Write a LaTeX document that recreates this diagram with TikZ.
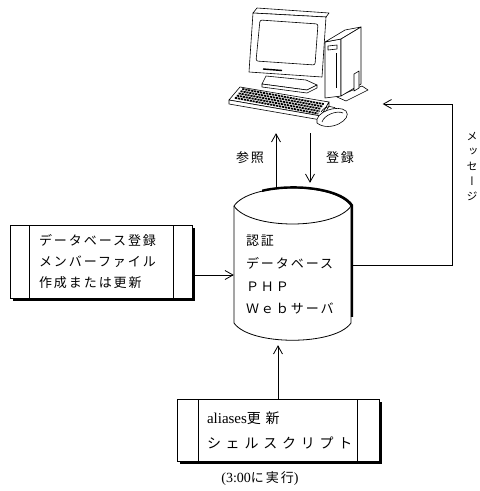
\documentclass[tikz,border=0pt]{standalone}
\usepackage{fontspec}
\setmainfont{Liberation Serif}
\newfontfamily\jp[LetterSpace=15]{Noto Sans CJK JP}
\newfontfamily\jpwide[LetterSpace=34]{Noto Sans CJK JP}
\newfontfamily\jpvert[RawFeature={+vert}]{Noto Sans CJK JP}
\usetikzlibrary{arrows.meta,shadows,calc,positioning}

\tikzset{
    procbox/.style={draw, fill=white, line width=0.8pt,
        drop shadow={shadow xshift=2.5pt, shadow yshift=-2.5pt, fill=black, opacity=1},
        path picture={\draw[line width=0.8pt]
            ([xshift=#1]path picture bounding box.north west) -- ([xshift=#1]path picture bounding box.south west)
            ([xshift=-#1]path picture bounding box.north east) -- ([xshift=-#1]path picture bounding box.south east);}},
    arr/.style={line width=0.8pt, -{Straight Barb[length=8pt, width=9pt]}},
    jptext/.style={font=\jp\fontsize{13}{21}\selectfont},
}

\begin{document}
\begin{tikzpicture}[x=1pt, y=-1pt]
        \useasboundingbox[fill=white] (0,0) rectangle (480,491);

        \node[minimum width=180pt, minimum height=128pt] (pc) at (292.5,69) {};
        \node[minimum width=117pt, minimum height=152pt] (db) at (292.5,265) {};

        \begin{scope}[line width=0.6pt, fill=white, line join=round]
            \draw[fill=white] (337,97) -- (346,101) -- (368,90) -- (362,86) -- cycle;
            \draw[fill=white] (325,42) -- (341,39) -- (341,96) -- (325,98) -- cycle;
            \draw[fill=white] (325,42) -- (341,39) -- (361,27) -- (345,30) -- cycle;
            \draw[fill=white] (341,39) -- (361,27) -- (361,84) -- (341,96) -- cycle;
            \draw (328,46) -- (337,45) -- (337,49) -- (328,50) -- cycle;
            \draw (336,53) -- (336,88);
            \draw[fill=white] (354,74) -- (359,71) -- (359,88) -- (354,91) -- cycle;

            \draw[fill=white] (266,76) -- (306,80) -- (317,85) -- (307,90) -- (262,84) -- cycle;
            \draw[fill=white] (262,84) -- (262,87) -- (307,93) -- (317,88) -- (317,85) -- (307,90) -- cycle;
            \draw[fill=white] (253,13) -- (257,8) -- (329,13) -- (326,17) -- cycle;
            \draw[fill=white] (253,13) -- (326,17) -- (322,77) -- (249,72) -- cycle;
            \draw[rounded corners=2pt] (260,20) -- (318,24) -- (315,65) -- (256,61) -- cycle;
            \draw[line width=1.4pt] (263,69) -- (282,70.5);
            \fill (298,72) circle (0.8);

            \draw[fill=white] (240,87) -- (329,102) -- (321,116) -- (229,100) -- cycle;
            \draw[fill=white] (229,100) -- (229,104) -- (321,120) -- (329,106) -- (329,102) -- (321,116) -- cycle;
            \foreach \t in {0.15,0.32,0.49,0.66,0.83}
                \draw[line width=1.8pt, dash pattern=on 2.2pt off 0.8pt]
                    ($(240,87)!\t!(229,100) + (4,0)$) -- ($(329,102)!\t!(321,116) + (-4,0)$);

            \draw (321,112) .. controls (326,104) and (334,106) .. (338,110);
            \draw[fill=white] (317,123) .. controls (314,112) and (338,104) .. (346,111)
                .. controls (353,119) and (330,133) .. (317,123) -- cycle;
            \draw (322,122) .. controls (324,115) and (337,110) .. (343,113);
        \end{scope}

        \draw[arr] ([xshift=-16.5pt]db.north) -- ([xshift=-16.5pt]pc.south);
        \draw[arr] ([xshift=17.5pt]pc.south) -- ([xshift=17.5pt, yshift=6pt]db.north);
        \node[jptext] (refer) at (250,158) {参照};
        \node[jptext] (regist) at (340,158) {登録};

        \draw[arr] (db.east) -- ++(101,0) |- ([yshift=-35pt]pc.east);
        \node[font=\jpvert\fontsize{11}{15}\selectfont, align=center] (msg) at (472,167) {メ\\ッ\\セ\\ー\\ジ};

        \draw[line width=0.8pt, fill=white] (234,206) .. controls (250,182) and (335,182) .. (351,206)
            -- (351,323) .. controls (335,346) and (250,346) .. (234,323) -- cycle;
        \draw[line width=0.8pt] (234,206) .. controls (250,230) and (335,230) .. (351,206);
        \begin{scope}
            \clip (262,150) rectangle (370,316);
            \draw[line width=2.4pt, shift={(1,-0.6)}] (234,206) .. controls (250,182) and (335,182) .. (351,206) -- (351,330);
        \end{scope}
        \node[jptext, font=\jp\fontsize{13}{22.7}\selectfont, text width=93pt, align=left] (dbtext) at (292.5,275)
            {認証\\データベース\\ＰＨＰ\\Ｗｅｂサーバ};

        \node[procbox=19pt, jptext, minimum width=182pt, minimum height=73pt, text width=124pt, align=left]
            (memberbox) at (101,261.5) {データベース登録\\メンバーファイル\\作成または更新};
        \draw[arr] (memberbox.east |- dbtext.west) -- (dbtext.west -| db.west);

        \node[procbox=21.5pt, font=\jpwide\fontsize{14}{25}\selectfont, minimum width=202pt, minimum height=62pt,
            text width=142pt, align=left] (aliasbox) at (278,430)
            {{\rmfamily\fontsize{15}{25}\selectfont aliases}更新\\シェルスクリプト};
        \draw[arr, shorten >=4pt] (aliasbox.north) -- (aliasbox.north |- db.south);

        \node[below=7pt of aliasbox, xshift=-18pt, font=\jp\fontsize{13}{15}\selectfont] (runat)
            {{\rmfamily\fontsize{14}{15}\selectfont (3:00}に実行{\rmfamily\fontsize{14}{15}\selectfont )}};

    \end{tikzpicture}
\end{document}
